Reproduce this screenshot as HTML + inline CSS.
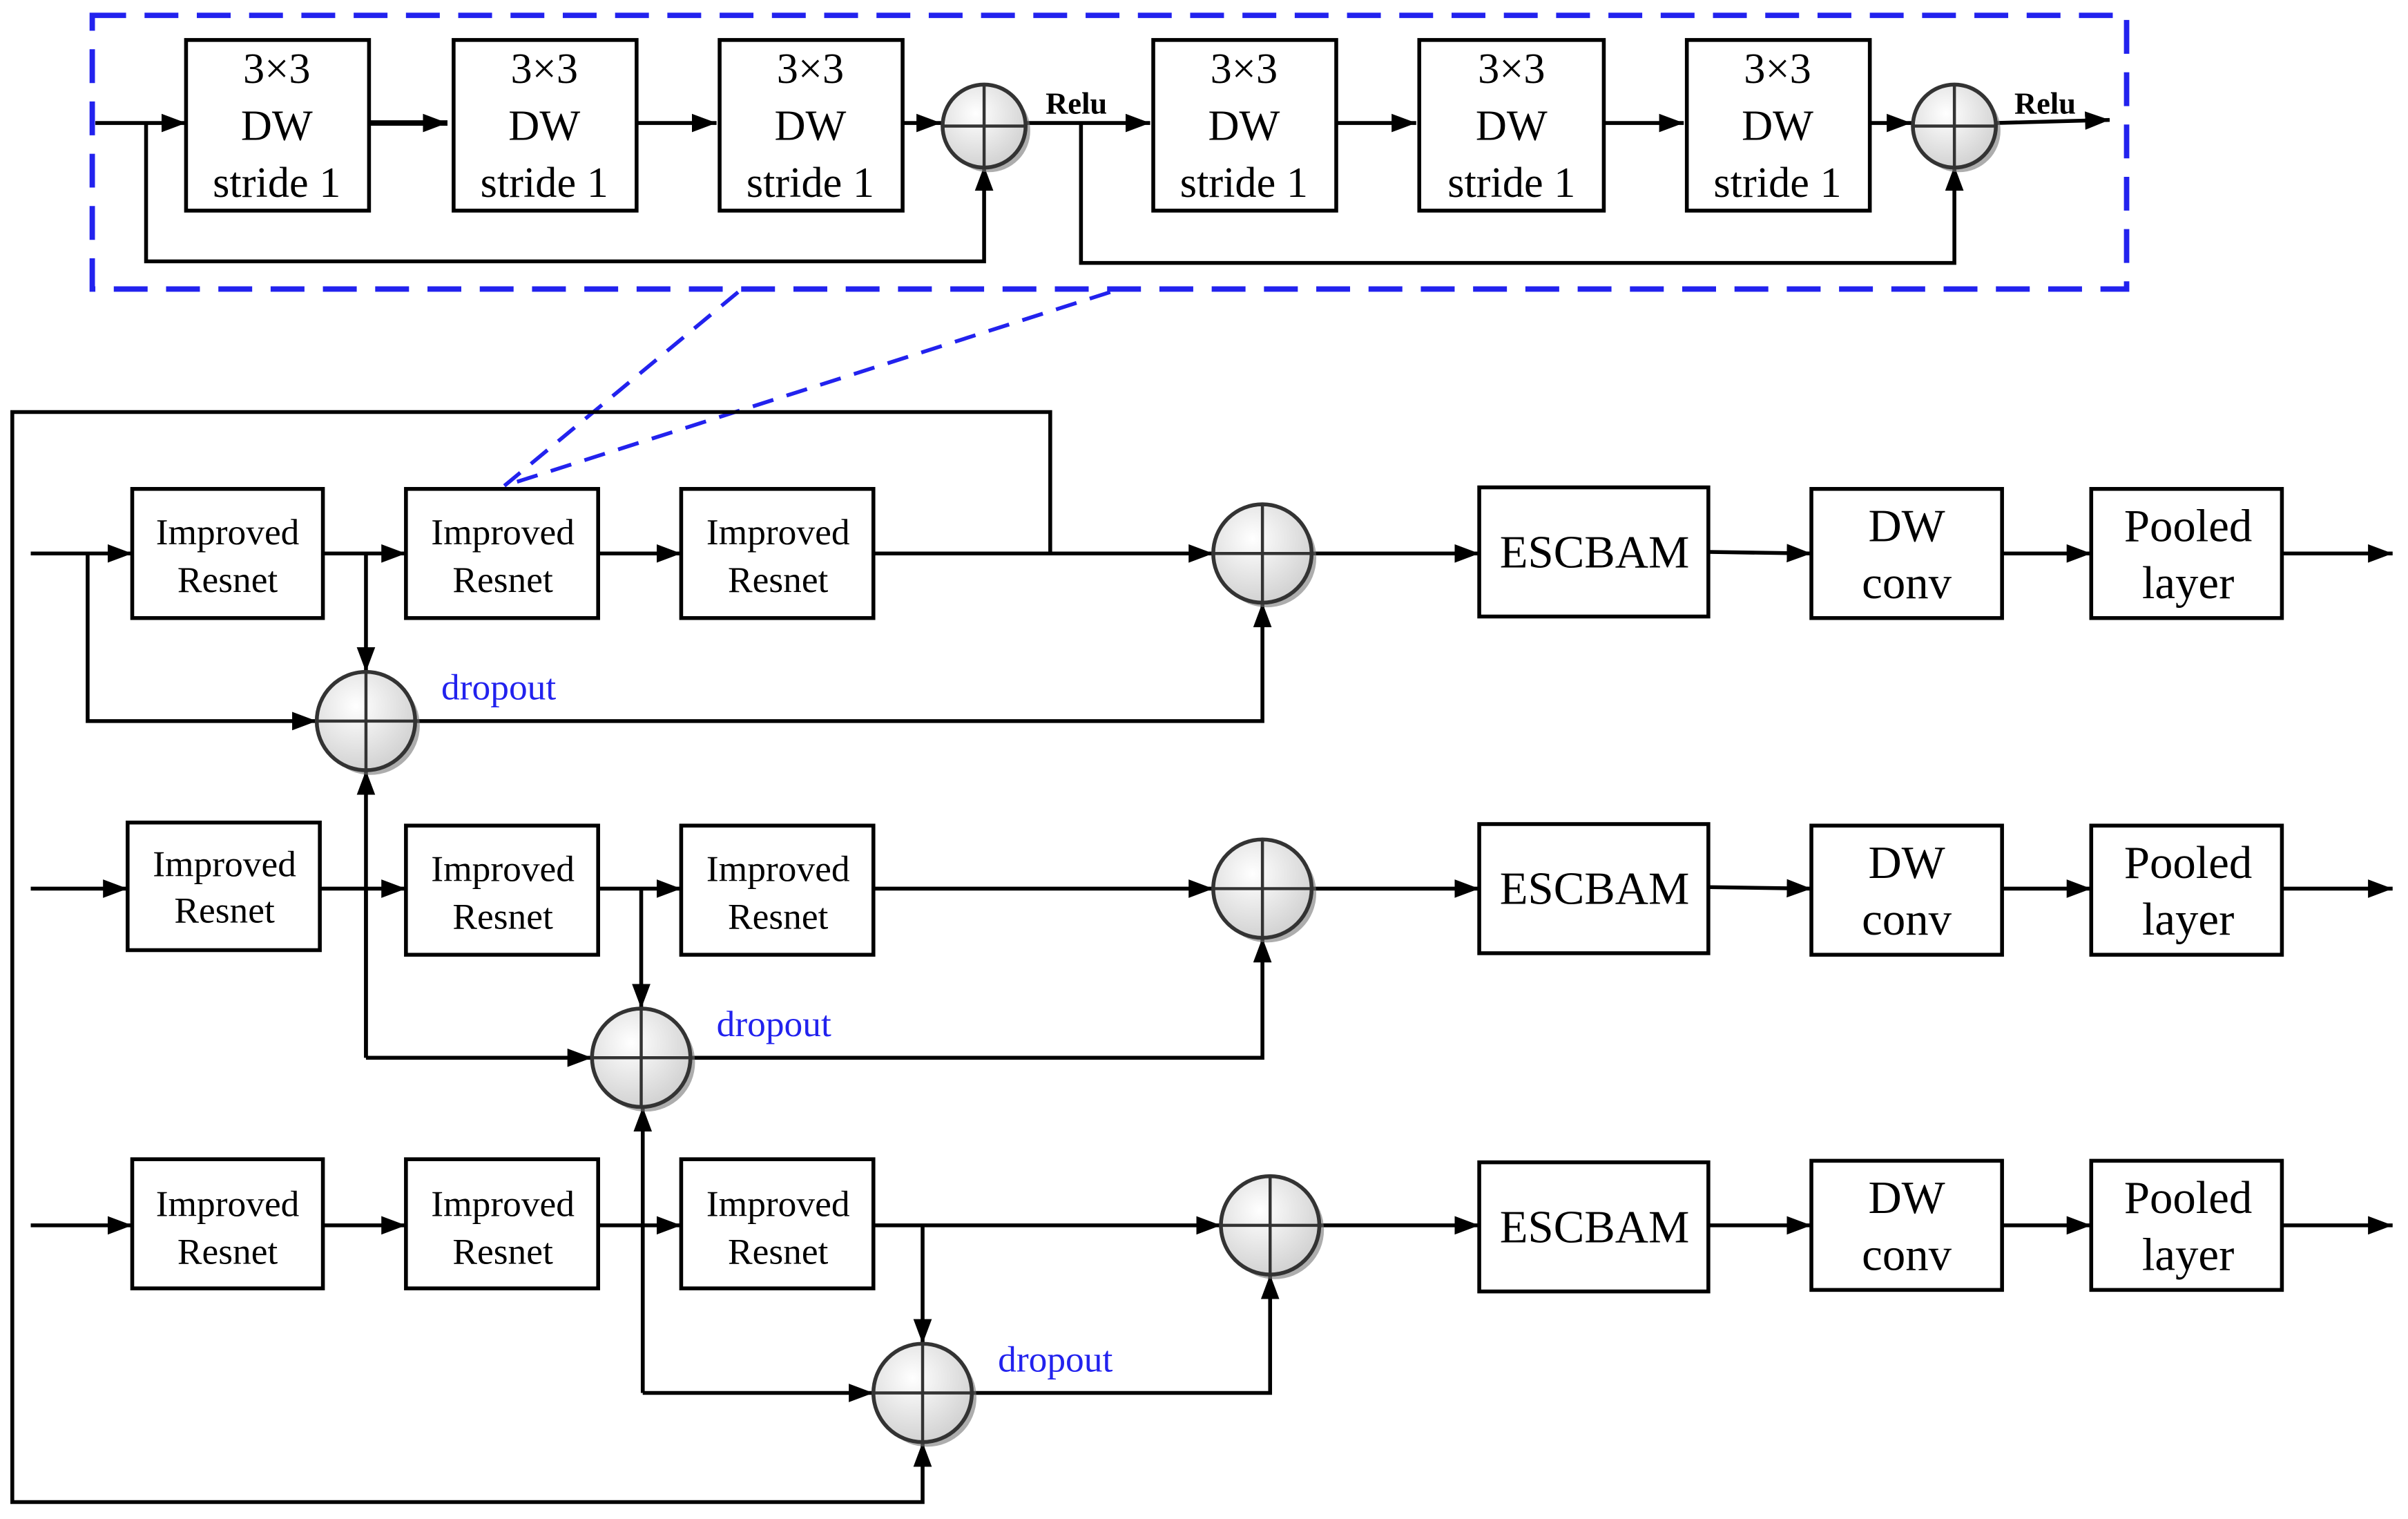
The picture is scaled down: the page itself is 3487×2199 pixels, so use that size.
<!DOCTYPE html>
<html><head><meta charset="utf-8"><style>
html,body{margin:0;padding:0;background:#fff}
svg{display:block}
text{font-family:"Liberation Serif",serif;fill:#000}
</style></head><body>
<svg width="3487" height="2199" viewBox="0 0 1566 988" preserveAspectRatio="none" xmlns="http://www.w3.org/2000/svg">
<defs>
<marker id="a" markerWidth="18" markerHeight="14" refX="16" refY="6" orient="auto" markerUnits="userSpaceOnUse"><path d="M0,0 L16,6 L0,12 z" fill="#000"/></marker>
<radialGradient id="g" cx="40%" cy="35%" r="70%"><stop offset="0" stop-color="#fff"/><stop offset="1" stop-color="#cfcfcf"/></radialGradient>
<g id="c"><circle cx="3" cy="3" r="32" fill="#777" opacity="0.6"/><circle r="32" fill="url(#g)" stroke="#333" stroke-width="2.5"/><line x1="-32" y1="0" x2="32" y2="0" stroke="#333" stroke-width="2"/><line x1="0" y1="-32" x2="0" y2="32" stroke="#333" stroke-width="2"/></g>
<g id="cs"><circle cx="3" cy="3" r="27" fill="#777" opacity="0.6"/><circle r="27" fill="url(#g)" stroke="#333" stroke-width="2.5"/><line x1="-27" y1="0" x2="27" y2="0" stroke="#333" stroke-width="2"/><line x1="0" y1="-27" x2="0" y2="27" stroke="#333" stroke-width="2"/></g>
</defs>
<g fill="none" stroke="#000" stroke-width="2.5">
<rect x="60" y="10" width="1323" height="178" stroke="#2222ee" stroke-width="3.5" stroke-dasharray="22,12"/>
<line x1="480" y1="190" x2="328" y2="316" stroke="#2222ee" stroke-width="2.5" stroke-dasharray="14,9"/>
<line x1="722" y1="190" x2="328" y2="316" stroke="#2222ee" stroke-width="2.5" stroke-dasharray="14,9"/>
<rect x="121" y="26" width="119" height="111"/><rect x="295" y="26" width="119" height="111"/><rect x="468" y="26" width="119" height="111"/>
<rect x="750" y="26" width="119" height="111"/><rect x="923" y="26" width="120" height="111"/><rect x="1097" y="26" width="119" height="111"/>
<line x1="62" y1="80" x2="121" y2="80" marker-end="url(#a)"/>
<line x1="240" y1="80" x2="291" y2="80" marker-end="url(#a)" stroke-width="3.5"/>
<line x1="414" y1="80" x2="466" y2="80" marker-end="url(#a)"/>
<line x1="587" y1="80" x2="612" y2="80" marker-end="url(#a)"/>
<polyline points="95,80 95,170 640,170 640,108" marker-end="url(#a)"/>
<line x1="667" y1="80" x2="748" y2="80" marker-end="url(#a)"/>
<polyline points="703,80 703,171 1271,171 1271,108" marker-end="url(#a)"/>
<line x1="869" y1="80" x2="921" y2="80" marker-end="url(#a)"/>
<line x1="1043" y1="80" x2="1095" y2="80" marker-end="url(#a)"/>
<line x1="1216" y1="80" x2="1243" y2="80" marker-end="url(#a)"/>
<line x1="1298" y1="80" x2="1372" y2="78" marker-end="url(#a)"/>
<polyline points="683,360 683,268 8,268 8,977 600,977 600,938" marker-end="url(#a)"/>
<rect x="86" y="318" width="124" height="84"/><rect x="264" y="318" width="125" height="84"/><rect x="443" y="318" width="125" height="84"/>
<rect x="962" y="317" width="149" height="84"/><rect x="1178" y="318" width="124" height="84"/><rect x="1360" y="318" width="124" height="84"/>
<line x1="20" y1="360" x2="86" y2="360" marker-end="url(#a)"/>
<line x1="210" y1="360" x2="264" y2="360" marker-end="url(#a)"/>
<line x1="389" y1="360" x2="443" y2="360" marker-end="url(#a)"/>
<line x1="568" y1="360" x2="789" y2="360" marker-end="url(#a)"/>
<line x1="853" y1="360" x2="962" y2="360" marker-end="url(#a)"/>
<line x1="1111" y1="359" x2="1178" y2="360" marker-end="url(#a)"/>
<line x1="1302" y1="360" x2="1360" y2="360" marker-end="url(#a)"/>
<line x1="1484" y1="360" x2="1556" y2="360" marker-end="url(#a)"/>
<polyline points="57,360 57,469 206,469" marker-end="url(#a)"/>
<line x1="238" y1="360" x2="238" y2="437" marker-end="url(#a)"/>
<polyline points="270,469 821,469 821,392" marker-end="url(#a)"/>
<rect x="83" y="535" width="125" height="83"/><rect x="264" y="537" width="125" height="84"/><rect x="443" y="537" width="125" height="84"/>
<rect x="962" y="536" width="149" height="84"/><rect x="1178" y="537" width="124" height="84"/><rect x="1360" y="537" width="124" height="84"/>
<line x1="20" y1="578" x2="83" y2="578" marker-end="url(#a)"/>
<line x1="208" y1="578" x2="264" y2="578" marker-end="url(#a)"/>
<line x1="389" y1="578" x2="443" y2="578" marker-end="url(#a)"/>
<line x1="568" y1="578" x2="789" y2="578" marker-end="url(#a)"/>
<line x1="853" y1="578" x2="962" y2="578" marker-end="url(#a)"/>
<line x1="1111" y1="577" x2="1178" y2="578" marker-end="url(#a)"/>
<line x1="1302" y1="578" x2="1360" y2="578" marker-end="url(#a)"/>
<line x1="1484" y1="578" x2="1556" y2="578" marker-end="url(#a)"/>
<line x1="238" y1="688" x2="238" y2="501" marker-end="url(#a)"/>
<line x1="238" y1="578" x2="238" y2="688"/>
<line x1="238" y1="688" x2="385" y2="688" marker-end="url(#a)"/>
<line x1="417" y1="578" x2="417" y2="656" marker-end="url(#a)"/>
<polyline points="449,688 821,688 821,610" marker-end="url(#a)"/>
<rect x="86" y="754" width="124" height="84"/><rect x="264" y="754" width="125" height="84"/><rect x="443" y="754" width="125" height="84"/>
<rect x="962" y="756" width="149" height="84"/><rect x="1178" y="755" width="124" height="84"/><rect x="1360" y="755" width="124" height="84"/>
<line x1="20" y1="797" x2="86" y2="797" marker-end="url(#a)"/>
<line x1="210" y1="797" x2="264" y2="797" marker-end="url(#a)"/>
<line x1="389" y1="797" x2="443" y2="797" marker-end="url(#a)"/>
<line x1="568" y1="797" x2="794" y2="797" marker-end="url(#a)"/>
<line x1="858" y1="797" x2="962" y2="797" marker-end="url(#a)"/>
<line x1="1111" y1="797" x2="1178" y2="797" marker-end="url(#a)"/>
<line x1="1302" y1="797" x2="1360" y2="797" marker-end="url(#a)"/>
<line x1="1484" y1="797" x2="1556" y2="797" marker-end="url(#a)"/>
<line x1="418" y1="906" x2="418" y2="720" marker-end="url(#a)"/>
<line x1="418" y1="797" x2="418" y2="906"/>
<line x1="418" y1="906" x2="568" y2="906" marker-end="url(#a)"/>
<line x1="600" y1="797" x2="600" y2="874" marker-end="url(#a)"/>
<polyline points="632,906 826,906 826,829" marker-end="url(#a)"/>
</g>
<use href="#cs" x="640" y="82"/><use href="#cs" x="1271" y="82"/>
<use href="#c" x="821" y="360"/><use href="#c" x="238" y="469"/>
<use href="#c" x="821" y="578"/><use href="#c" x="417" y="688"/>
<use href="#c" x="826" y="797"/><use href="#c" x="600" y="906"/>
<g font-size="28" text-anchor="middle">
<text x="180" y="54">3×3</text><text x="180" y="91">DW</text><text x="180" y="128">stride 1</text>
<text x="354" y="54">3×3</text><text x="354" y="91">DW</text><text x="354" y="128">stride 1</text>
<text x="527" y="54">3×3</text><text x="527" y="91">DW</text><text x="527" y="128">stride 1</text>
<text x="809" y="54">3×3</text><text x="809" y="91">DW</text><text x="809" y="128">stride 1</text>
<text x="983" y="54">3×3</text><text x="983" y="91">DW</text><text x="983" y="128">stride 1</text>
<text x="1156" y="54">3×3</text><text x="1156" y="91">DW</text><text x="1156" y="128">stride 1</text>
</g>
<g font-size="20" font-weight="bold"><text x="680" y="74">Relu</text><text x="1310" y="74">Relu</text></g>
<g font-size="24" text-anchor="middle">
<text x="148" y="354">Improved</text><text x="148" y="385">Resnet</text>
<text x="327" y="354">Improved</text><text x="327" y="385">Resnet</text>
<text x="506" y="354">Improved</text><text x="506" y="385">Resnet</text>
<text x="146" y="570">Improved</text><text x="146" y="600">Resnet</text>
<text x="327" y="573">Improved</text><text x="327" y="604">Resnet</text>
<text x="506" y="573">Improved</text><text x="506" y="604">Resnet</text>
<text x="148" y="791">Improved</text><text x="148" y="822">Resnet</text>
<text x="327" y="791">Improved</text><text x="327" y="822">Resnet</text>
<text x="506" y="791">Improved</text><text x="506" y="822">Resnet</text>
</g>
<g font-size="30" text-anchor="middle">
<text x="1037" y="369">ESCBAM</text><text x="1240" y="352">DW</text><text x="1240" y="389">conv</text><text x="1423" y="352">Pooled</text><text x="1423" y="389">layer</text>
<text x="1037" y="588">ESCBAM</text><text x="1240" y="571">DW</text><text x="1240" y="608">conv</text><text x="1423" y="571">Pooled</text><text x="1423" y="608">layer</text>
<text x="1037" y="808">ESCBAM</text><text x="1240" y="789">DW</text><text x="1240" y="826">conv</text><text x="1423" y="789">Pooled</text><text x="1423" y="826">layer</text>
</g>
<g font-size="24">
<text x="287" y="455" style="fill:#2222ee">dropout</text>
<text x="466" y="674" style="fill:#2222ee">dropout</text>
<text x="649" y="892" style="fill:#2222ee">dropout</text>
</g>
</svg>
</body></html>
